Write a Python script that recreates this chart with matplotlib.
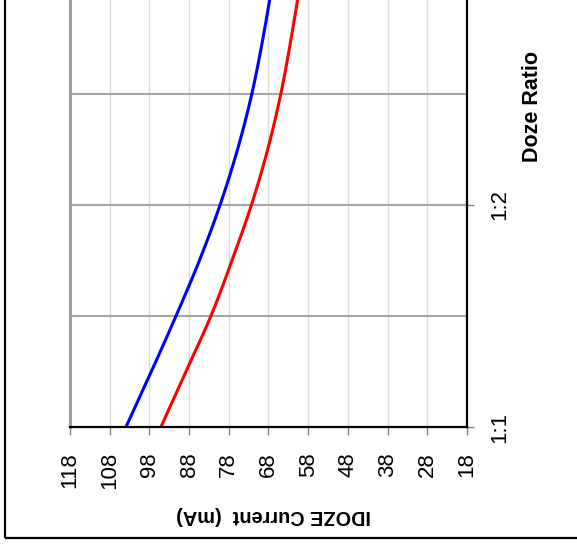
import numpy as np
import matplotlib
matplotlib.use("Agg")
import matplotlib.pyplot as plt
from matplotlib.patches import Rectangle

plt.rcParams['font.family'] = ['Liberation Sans', 'DejaVu Sans']

# Doze ratio positions (0 = 1:1, 1 = 1:2, 2 = 1:3)
ratio_pos = [0.0, 0.25, 0.5, 0.75, 1.0, 1.25, 1.5, 1.75, 2.0]
ratio_ticks = [0, 1, 2]
ratio_labels = ["1:1", "1:2", "1:3"]
current_ticks = [118, 108, 98, 88, 78, 68, 58, 48, 38, 28, 18]

# IDOZE current (mA)
blue_current = [103.9, 97.5, 91.3, 85.4, 80.2, 75.8, 72.2, 69.4, 67.0]
red_current = [95.1, 88.8, 82.5, 77.2, 72.3, 68.2, 64.9, 62.3, 60.0]


def smooth(xs, ys, n=20):
    xs = np.asarray(xs, float); ys = np.asarray(ys, float)
    px = np.concatenate([[2*xs[0]-xs[1]], xs, [2*xs[-1]-xs[-2]]])
    py = np.concatenate([[2*ys[0]-ys[1]], ys, [2*ys[-1]-ys[-2]]])
    ox, oy = [], []
    t = np.linspace(0, 1, n, endpoint=False)
    for i in range(1, len(px)-2):
        for arr, out in ((px, ox), (py, oy)):
            p0, p1, p2, p3 = arr[i-1], arr[i], arr[i+1], arr[i+2]
            out.extend(0.5*((2*p1) + (-p0+p2)*t + (2*p0-5*p1+4*p2-p3)*t**2 + (-p0+3*p1-3*p2+p3)*t**3))
    ox.append(xs[-1]); oy.append(ys[-1])
    return np.array(ox), np.array(oy)


W, H = 577, 551
fig = plt.figure(figsize=(W/100, H/100), dpi=100)

# outer frame
fig.patches.append(Rectangle((5/W, (H-538)/H), 1.2, 1.2, transform=fig.transFigure,
                             fill=False, edgecolor='black', linewidth=1.6))

left, right, bottom_px = 70, 467, 427
yspan = 2.5
ax = fig.add_axes([left/W, (H-bottom_px)/H, (right-left)/W, yspan*222/H])
ax.set_xlim(118, 18)
ax.set_ylim(0, yspan)

ax.set_xticks(current_ticks)
ax.set_xticklabels([str(v) for v in current_ticks], rotation=90, fontsize=16)
ax.set_yticks(ratio_ticks)
ax.set_yticklabels(ratio_labels, rotation=90, fontsize=16, va='center')
ax.set_yticks([0.5, 1.5], minor=True)
ax.yaxis.tick_right()
ax.tick_params(axis='x', direction='out', length=6, width=1, color='#808080', pad=12)
ax.tick_params(axis='y', which='major', direction='out', length=5, width=1, color='#808080', pad=11)
ax.tick_params(axis='y', which='minor', length=0)

for v in current_ticks:
    ax.axvline(v, color='#d9d9d9', linewidth=1.0, zorder=0)
for v in [0.5, 1.0, 1.5, 2.0]:
    ax.axhline(v, color='#a6a6a6', linewidth=1.5, zorder=0)

ax.spines['left'].set_color('#a0a0a0')
ax.spines['left'].set_linewidth(2.2)
ax.spines['top'].set_visible(False)
ax.spines['right'].set_color('black')
ax.spines['right'].set_linewidth(1.6)
ax.spines['bottom'].set_color('black')
ax.spines['bottom'].set_linewidth(1.6)

bx, by = smooth(ratio_pos, blue_current)
rx, ry = smooth(ratio_pos, red_current)
ax.plot(by, bx, color='#0000ff', linewidth=2.2, solid_capstyle='butt', clip_on=True)
ax.plot(ry, rx, color='#ff0000', linewidth=2.2, solid_capstyle='butt', clip_on=True)

fig.text(274/W, (H-516)/H, "IDOZE Current  (mA)", rotation=180, ha='center', va='center',
         fontsize=14.3, fontweight='bold')
fig.text(532/W, (H-106)/H, "Doze Ratio", rotation=90, ha='center', va='center',
         fontsize=15.5, fontweight='bold')

fig.savefig("out.png", dpi=100)
